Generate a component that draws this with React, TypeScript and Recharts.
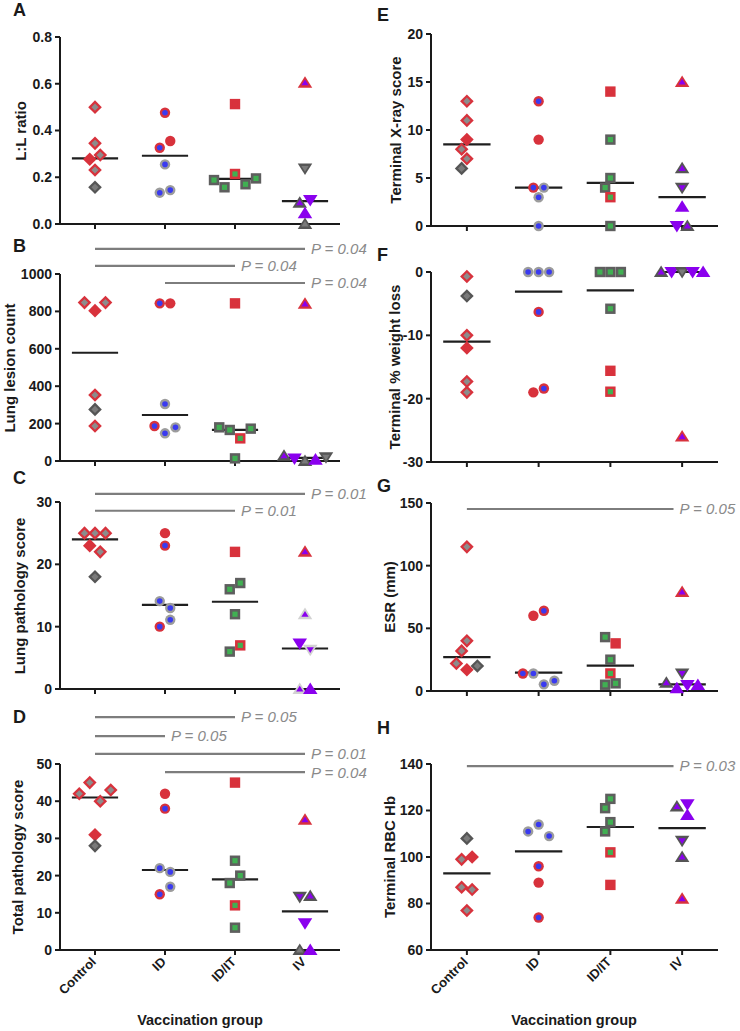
import React from "react";
import { ScatterChart, Scatter, XAxis, YAxis, ReferenceLine } from "recharts";

const FONT = '"Liberation Sans", Arial, Helvetica, sans-serif';

const groups = ["Control", "ID", "ID/IT", "IV"];

// A - L:L ratio
const llTicks = [0, 0.2, 0.4, 0.6, 0.8];
const llValues = [
  [0.5, 0.345, 0.277, 0.295, 0.231, 0.157],
  [0.476, 0.326, 0.355, 0.255, 0.134, 0.145],
  [0.513, 0.188, 0.157, 0.214, 0.17, 0.195],
  [0.604, 0.238, 0.091, 0.103, 0.046, 0],
];
const llMarks = [
  ["rg", "rg", "r", "rg", "rg", "k"],
  ["rb", "rb", "r", "gb", "gb", "gb"],
  ["r", "kn", "kn", "rn", "kn", "kn"],
  ["rp^", "kv", "kp^", "pv", "p^", "k^"],
];
const llMedians = [0.281, 0.292, 0.193, 0.098];

// B - lung lesion count
const lesionTicks = [0, 200, 400, 600, 800, 1000];
const lesionValues = [
  [847, 804, 847, 353, 276, 187],
  [843, 843, 305, 187, 148, 180],
  [843, 180, 166, 121, 173, 14],
  [840, 28, 14, 0, 7, 20],
];
const lesionMarks = [
  ["rg", "r", "rg", "rg", "k", "rg"],
  ["rb", "r", "gb", "rb", "gb", "gb"],
  ["r", "kn", "kn", "rn", "kn", "kn"],
  ["rp^", "kp^", "pv", "k^", "p^", "kv"],
];
const lesionMedians = [579, 246, 166, 17];
const lesionBars = [
  { from: 0, to: 3, y: 1134, text: "P = 0.04" },
  { from: 0, to: 2, y: 1043, text: "P = 0.04" },
  { from: 1, to: 3, y: 952, text: "P = 0.04" },
];

// C - lung pathology score
const lungTicks = [0, 10, 20, 30];
const lungValues = [
  [25, 25, 25, 23, 22, 18],
  [25, 23, 14.1, 13, 10, 11.1],
  [22, 16, 17, 12, 6, 7],
  [22, 12, 7.3, 6.3, 0, 0],
];
const lungMarks = [
  ["rg", "rg", "rg", "r", "rg", "k"],
  ["r", "rb", "gb", "gb", "rb", "gb"],
  ["r", "kn", "kn", "kn", "kn", "rn"],
  ["rp^", "lp^", "pv", "lpv", "lp^", "p^"],
];
const lungMedians = [24, 13.5, 14, 6.5];
const lungBars = [
  { from: 0, to: 3, y: 31.3, text: "P = 0.01" },
  { from: 0, to: 2, y: 28.6, text: "P = 0.01" },
];

// D - total pathology score
const totalTicks = [0, 10, 20, 30, 40, 50];
const totalValues = [
  [42, 45, 40, 43, 31, 28],
  [42, 38, 22, 21, 15, 17],
  [45, 24, 18, 20, 12, 6],
  [35, 14.3, 14.5, 7.2, 0, 0],
];
const totalMarks = [
  ["rg", "rg", "rg", "rg", "r", "k"],
  ["r", "rb", "gb", "gb", "rb", "gb"],
  ["r", "kn", "kn", "kn", "rn", "kn"],
  ["rp^", "kpv", "kp^", "pv", "k^", "p^"],
];
const totalMedians = [41, 21.5, 19, 10.4];
const totalBars = [
  { from: 0, to: 2, y: 62.6, text: "P = 0.05" },
  { from: 0, to: 1, y: 57.5, text: "P = 0.05" },
  { from: 0, to: 3, y: 52.7, text: "P = 0.01" },
  { from: 1, to: 3, y: 47.8, text: "P = 0.04" },
];

// E - terminal X-ray score
const xrayTicks = [0, 5, 10, 15, 20];
const xrayValues = [
  [13, 11, 9, 8, 7, 6],
  [13, 9, 4, 4, 3, 0],
  [14, 9, 5, 4, 3, 0],
  [15, 6, 4, 2, 0, 0],
];
const xrayMarks = [
  ["rg", "rg", "r", "rg", "rg", "k"],
  ["rb", "r", "rb", "gb", "gb", "gb"],
  ["r", "kn", "kn", "kn", "rn", "kn"],
  ["rp^", "kp^", "kpv", "p^", "pv", "kp^"],
];
const xrayMedians = [8.5, 4, 4.5, 3];

// F - terminal % weight loss
const weightTicks = [-30, -20, -10, 0];
const weightValues = [
  [-0.7, -3.8, -10, -12, -17.3, -19],
  [0, 0, 0, -6.3, -19, -18.4],
  [0, 0, 0, -5.8, -15.6, -18.9],
  [0, 0, 0, 0, 0, -26],
];
const weightMarks = [
  ["rg", "k", "rg", "r", "rg", "rg"],
  ["gb", "gb", "gb", "rb", "r", "rb"],
  ["kn", "kn", "kn", "kn", "r", "rn"],
  ["kp^", "pv", "kv", "pv", "p^", "rp^"],
];
const weightMedians = [-11, -3.1, -2.9, 0];

// G - ESR
const esrTicks = [0, 50, 100, 150];
const esrValues = [
  [115, 40, 32, 22, 17, 20],
  [60, 64, 14, 14, 5.3, 8.2],
  [43, 38, 25, 14, 5, 6.1],
  [79, 14, 6.6, 2.1, 4.8, 4.8],
];
const esrMarks = [
  ["rg", "rg", "rg", "rg", "r", "k"],
  ["r", "rb", "rb", "gb", "gb", "gb"],
  ["kn", "r", "kn", "rn", "kn", "kn"],
  ["rp^", "kpv", "kp^", "p^", "pv", "p^"],
];
const esrMedians = [27, 14.6, 20.2, 5.3];
const esrBars = [{ from: 0, to: 2.88, y: 145.2, text: "P = 0.05" }];

// H - terminal RBC Hb
const hbTicks = [60, 80, 100, 120, 140];
const hbValues = [
  [108, 99, 100, 87, 86, 77],
  [111, 114, 109, 96, 89, 74],
  [125, 121, 115, 111, 102, 88],
  [121.7, 122.7, 118, 107, 100, 82],
];
const hbMarks = [
  ["k", "rg", "r", "rg", "rg", "rg"],
  ["gb", "gb", "gb", "rb", "r", "rb"],
  ["kn", "kn", "kn", "kn", "rn", "r"],
  ["kp^", "pv", "p^", "kpv", "kp^", "rp^"],
];
const hbMedians = [93, 102.4, 112.9, 112.4];
const hbBars = [{ from: 0, to: 2.88, y: 139.1, text: "P = 0.03" }];

const RED = "#d8323c";
const GREY = "#8c8c8c";
const DARK = "#555555";
const BLUE = "#3a3af0";
const GREEN = "#40b052";
const PURPLE = "#8a00ee";
const LIGHT = "#d2d2d2";

const palette: Record<string, [string, string]> = {
  r: [RED, RED],
  rg: [RED, GREY],
  k: [DARK, "#7a7a7a"],
  rb: [RED, BLUE],
  gb: ["#9c9c9c", BLUE],
  rn: [RED, GREEN],
  kn: ["#5e5e5e", GREEN],
  rp: [RED, PURPLE],
  p: [PURPLE, PURPLE],
  kp: [DARK, PURPLE],
  lp: [LIGHT, PURPLE],
};

const AX = { stroke: "#1a1a1a", strokeWidth: 2 };

// simple beeswarm: close values share a row, rows nudged sideways on collision
const ROW_GAP = 8.5;
const STEP = 10.5;
const MIN_DIST = 10.5;

function swarm(vals: number[], marks: string[], g: number, pxY: number, pxX: number) {
  const order = vals.map((_, i) => i).sort((a, b) => vals[b] - vals[a]);
  const rows: number[][] = [];
  let cur: number[] = [];
  order.forEach((i, k) => {
    if (k > 0 && (vals[order[k - 1]] - vals[i]) * pxY > ROW_GAP) {
      rows.push(cur);
      cur = [];
    }
    cur.push(i);
  });
  rows.push(cur);

  const placed: { dx: number; py: number }[] = [];
  const out: any[] = new Array(vals.length);
  const shifts = [0, -STEP / 2, STEP / 2, -STEP, STEP, -1.5 * STEP, 1.5 * STEP];
  rows.forEach((row) => {
    row.sort((a, b) => a - b);
    const base = row.map((_, j) => (j - (row.length - 1) / 2) * STEP);
    let chosen = 0;
    for (const s of shifts) {
      const ok = row.every((i, j) =>
        placed.every((p) => Math.hypot(base[j] + s - p.dx, -vals[i] * pxY - p.py) >= MIN_DIST)
      );
      if (ok) {
        chosen = s;
        break;
      }
    }
    row.forEach((i, j) => {
      const dx = base[j] + chosen;
      placed.push({ dx, py: -vals[i] * pxY });
      out[i] = { x: g + dx / pxX, y: vals[i], mark: marks[i] };
    });
  });
  return out;
}

const Marker = ({ cx, cy, payload, group }: any) => {
  if (cx == null || cy == null) return <g />;
  const code: string = payload.mark;
  const dir = code.endsWith("v") && group === 3 ? -1 : 1;
  const key = group === 3 ? code.replace(/[\^v]$/, "") : code;
  const [outer, inner] = palette[key] || [GREY, GREY];

  if (group === 0) {
    const d = (s: number) => `${cx},${cy - s} ${cx + s},${cy} ${cx},${cy + s} ${cx - s},${cy}`;
    return (
      <g>
        <polygon points={d(6.8)} fill={outer} />
        <polygon points={d(3.6)} fill={inner} />
      </g>
    );
  }
  if (group === 1) {
    return (
      <g>
        <circle cx={cx} cy={cy} r={5.2} fill={outer} />
        <circle cx={cx} cy={cy} r={2.8} fill={inner} />
      </g>
    );
  }
  if (group === 2) {
    return (
      <g>
        <rect x={cx - 5.2} y={cy - 5.2} width={10.4} height={10.4} fill={outer} />
        <rect x={cx - 2.6} y={cy - 2.6} width={5.2} height={5.2} fill={inner} />
      </g>
    );
  }
  const t = (s: number) =>
    `${cx},${cy - dir * s} ${cx + s * 1.1},${cy + dir * s * 0.75} ${cx - s * 1.1},${cy + dir * s * 0.75}`;
  return (
    <g>
      <polygon points={t(6.6)} fill={outer} />
      <polygon points={t(3.3)} fill={inner} />
    </g>
  );
};

const CatTick = ({ x, y, payload }: any) => (
  <g transform={`translate(${x},${y + 1}) rotate(-45)`}>
    <text x={-2} y={0} dy="0.35em" textAnchor="end" fontSize={13} fontWeight={700} fill="#1a1a1a" fontFamily={FONT}>
      {groups[payload.value]}
    </text>
  </g>
);

const panels = [
  { id: "A", title: "L:L ratio", values: llValues, marks: llMarks, medians: llMedians, bars: [], col: 0, plotTop: 37, plotH: 187, domain: [0, 0.8], ticks: llTicks, mt: 30, titleX: 20, letterY: 10, fmt: (v: number) => v.toFixed(1) },
  { id: "B", title: "Lung lesion count", values: lesionValues, marks: lesionMarks, medians: lesionMedians, bars: lesionBars, col: 0, plotTop: 274, plotH: 187, domain: [0, 1000], ticks: lesionTicks, mt: 40, titleX: 9, letterY: 246 },
  { id: "C", title: "Lung pathology score", values: lungValues, marks: lungMarks, medians: lungMedians, bars: lungBars, col: 0, plotTop: 502, plotH: 187, domain: [0, 30], ticks: lungTicks, mt: 40, titleX: 19, letterY: 478 },
  { id: "D", title: "Total pathology score", values: totalValues, marks: totalMarks, medians: totalMedians, bars: totalBars, col: 0, plotTop: 764, plotH: 186, domain: [0, 50], ticks: totalTicks, mt: 60, titleX: 17, letterY: 717, xLabels: true },
  { id: "E", title: "Terminal X-ray score", values: xrayValues, marks: xrayMarks, medians: xrayMedians, bars: [], col: 1, plotTop: 34, plotH: 192, domain: [0, 20], ticks: xrayTicks, mt: 30, titleX: 395, letterY: 15 },
  { id: "F", title: "Terminal % weight loss", values: weightValues, marks: weightMarks, medians: weightMedians, bars: [], col: 1, plotTop: 272, plotH: 190, domain: [-30, 0], ticks: weightTicks, mt: 30, titleX: 394, letterY: 255 },
  { id: "G", title: "ESR (mm)", values: esrValues, marks: esrMarks, medians: esrMedians, bars: esrBars, col: 1, plotTop: 503, plotH: 188, domain: [0, 150], ticks: esrTicks, mt: 30, titleX: 389, letterY: 486 },
  { id: "H", title: "Terminal RBC Hb", values: hbValues, marks: hbMarks, medians: hbMedians, bars: hbBars, col: 1, plotTop: 764, plotH: 186, domain: [60, 140], ticks: hbTicks, mt: 30, titleX: 389, letterY: 728, xLabels: true },
];

const Panel = ({ p }: any) => {
  const left = p.col === 0 ? 0 : 370;
  const yW = p.col === 0 ? 60 : 61;
  const mr = p.col === 0 ? 30 : 22;
  const plotW = 370 - yW - mr;
  const xH = p.xLabels ? 80 : 14;
  const pxY = p.plotH / (p.domain[1] - p.domain[0]);
  const pxX = plotW / 4;
  const series = p.values.map((vals: number[], g: number) => swarm(vals, p.marks[g], g, pxY, pxX));

  return (
    <div style={{ position: "absolute", left, top: p.plotTop - p.mt }}>
      <ScatterChart width={370} height={p.mt + p.plotH + xH} margin={{ top: p.mt, right: mr, bottom: 0, left: 0 }}>
        <XAxis
          type="number"
          dataKey="x"
          domain={[-0.5, 3.5]}
          ticks={[0, 1, 2, 3]}
          interval={0}
          height={xH}
          axisLine={AX}
          tickLine={AX}
          tickSize={5}
          tickMargin={2}
          tick={p.xLabels ? (t: any) => <CatTick {...t} /> : () => <g />}
        />
        <YAxis
          type="number"
          dataKey="y"
          domain={p.domain}
          ticks={p.ticks}
          interval={0}
          width={yW}
          axisLine={AX}
          tickLine={AX}
          tickSize={5}
          tickMargin={3}
          tickFormatter={p.fmt}
          tick={{ fontSize: 14, fontWeight: 700, fill: "#1a1a1a", fontFamily: FONT }}
        />
        {p.bars.map((b: any, i: number) => (
          <ReferenceLine
            key={`bar${i}`}
            segment={[{ x: b.from, y: b.y }, { x: b.to, y: b.y }]}
            ifOverflow="visible"
            stroke="#7d7d7d"
            strokeWidth={2.2}
            label={{ value: b.text, position: "right", offset: 6, fill: "#8a8a8a", fontSize: 15, fontStyle: "italic", fontFamily: FONT }}
          />
        ))}
        {series.map((pts: any[], g: number) => (
          <Scatter
            key={`s${g}`}
            data={pts}
            isAnimationActive={false}
            shape={(sp: any) => <Marker {...sp} group={g} />}
          />
        ))}
        {p.medians.map((m: number, g: number) => (
          <ReferenceLine
            key={`med${g}`}
            segment={[{ x: g - 0.33, y: m }, { x: g + 0.33, y: m }]}
            ifOverflow="visible"
            stroke="#1f1f1f"
            strokeWidth={2.2}
          />
        ))}
      </ScatterChart>
    </div>
  );
};

const textBase: React.CSSProperties = {
  position: "absolute",
  fontFamily: FONT,
  fontWeight: 700,
  color: "#1a1a1a",
  whiteSpace: "nowrap",
  lineHeight: 1,
};

export default function App() {
  return (
    <div style={{ position: "absolute", left: 0, top: 0, width: 740, height: 1031, background: "#fff", overflow: "hidden" }}>
      {panels.map((p) => (
        <Panel key={p.id} p={p} />
      ))}
      {panels.map((p) => (
        <div key={`l${p.id}`} style={{ ...textBase, fontSize: 18, left: p.col === 0 ? 13 : 377, top: p.letterY, transform: "translateY(-50%)" }}>
          {p.id}
        </div>
      ))}
      {panels.map((p) => (
        <div
          key={`t${p.id}`}
          style={{
            ...textBase,
            fontSize: 15,
            left: p.titleX,
            top: p.plotTop + p.plotH / 2,
            transform: "translate(-50%, -50%) rotate(-90deg)",
          }}
        >
          {p.title}
        </div>
      ))}
      {[200, 574].map((cx) => (
        <div key={`vg${cx}`} style={{ ...textBase, fontSize: 14.5, left: cx, top: 1020, transform: "translate(-50%, -50%)" }}>
          Vaccination group
        </div>
      ))}
    </div>
  );
}
